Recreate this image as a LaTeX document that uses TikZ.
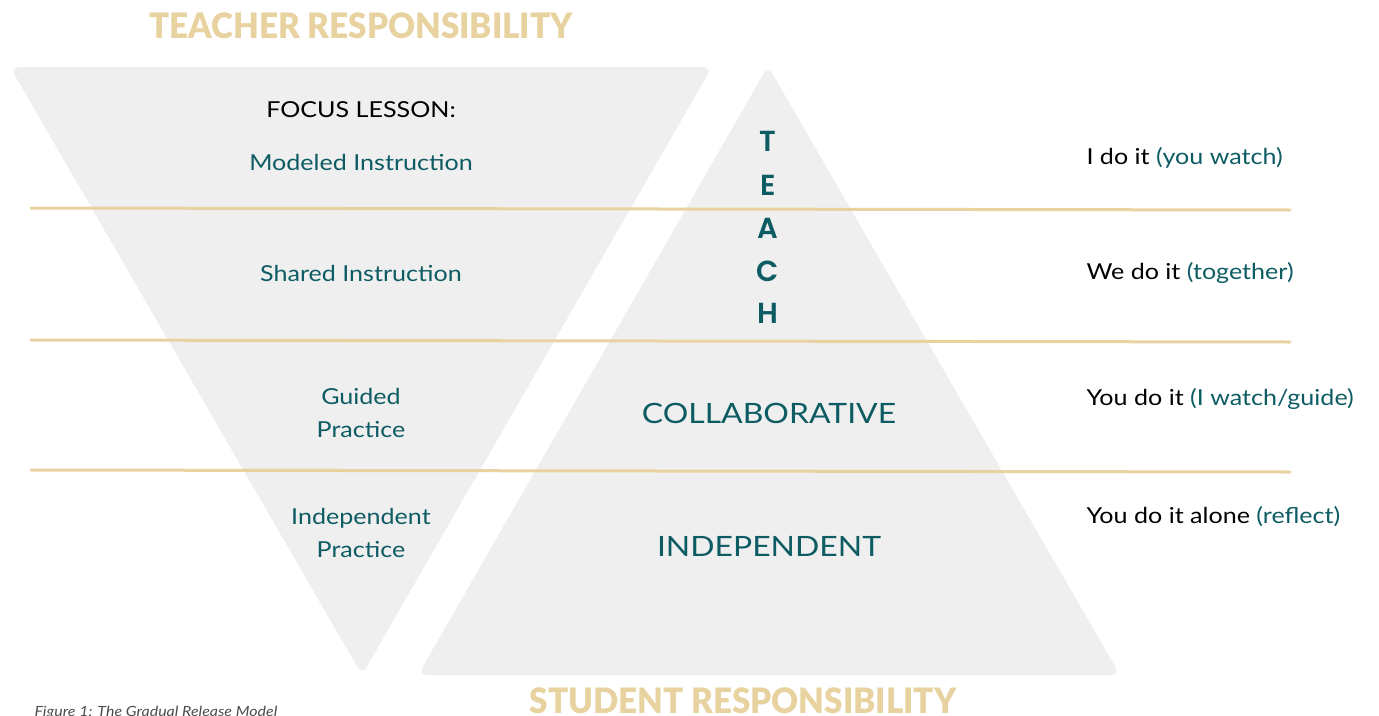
\documentclass[tikz,border=0pt]{standalone}
\usepackage{fontspec}
\setmainfont[FakeStretch=1.14]{Lato}
\newfontfamily\headfont[FakeStretch=0.95]{Lato Black}
\newfontfamily\letterfont{Poppins SemiBold}
\definecolor{trigray}{HTML}{EFEFEF}
\definecolor{sand}{HTML}{E8D3A0}
\definecolor{deepteal}{HTML}{0E5C63}
\begin{document}
\begin{tikzpicture}[x=1pt,y=-1pt,line cap=round,
	head/.style={font=\headfont\fontsize{35}{40}\selectfont,text=sand,anchor=base},
	stage/.style={font=\fontsize{22}{33}\selectfont,text=deepteal,align=center},
	big/.style={font=\fontsize{28}{34}\selectfont,text=deepteal},
	letter/.style={font=\letterfont\fontsize{29}{30}\selectfont,text=deepteal},
	saying/.style={font=\fontsize{22}{26}\selectfont,anchor=west},
	band/.style={sand,line width=3pt}]
	\useasboundingbox (0,0) rectangle (1379,715);
	% the two triangles
	\fill[trigray,rounded corners=9] (10,67)--(712,67)--(362,675)--cycle;
	\fill[trigray,rounded corners=9] (768,66)--(1120,675)--(418,675)--cycle;
	% bands
	\draw[band] (31,208)--(1290,210);
	\draw[band] (31,340)--(1290,342);
	\draw[band] (31,470)--(1290,472);
	\node[head] (teacher) at (361,38) {TEACHER RESPONSIBILITY};
	\node[head] (student) at (743,713) {STUDENT RESPONSIBILITY};
	\node[font=\itshape\fontsize{14}{16}\selectfont,text=black!70,anchor=base west] (caption) at (31,716) {Figure 1: The Gradual Release Model};
	% left column
	\node[font=\fontsize{22}{26}\selectfont] (focus) at (361,110) {FOCUS LESSON:};
	\node[stage] (modeled) at (361,162) {Modeled Instruction};
	\node[stage] (shared) at (361,273) {Shared Instruction};
	\node[stage] (guided) at (361,413) {Guided\\Practice};
	\node[stage] (indep) at (361,533) {Independent\\Practice};
	% middle
	\foreach \ch/\yy [count=\i] in {T/141,E/185,A/228,C/271,H/313}
		\node[letter] (teach\i) at (768,\yy) {\ch};
	\node[big] (collab) at (769,413) {COLLABORATIVE};
	\node[big] (alone) at (769,546) {INDEPENDENT};
	% right column
	\node[saying] (ido) at (1083,158) {I do it \textcolor{deepteal}{(you watch)}};
	\node[saying] (wedo) at (1083,273) {We do it \textcolor{deepteal}{(together)}};
	\node[saying] (youdo) at (1083,399) {You do it \textcolor{deepteal}{(I watch/guide)}};
	\node[saying] (youalone) at (1083,517) {You do it alone \textcolor{deepteal}{(reflect)}};
\end{tikzpicture}
\end{document}
